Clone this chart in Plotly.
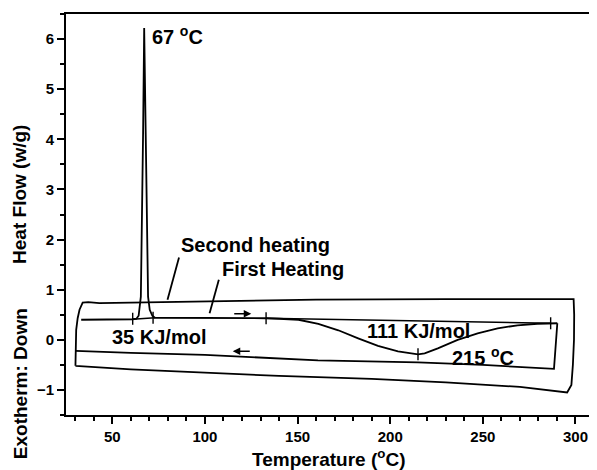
import plotly.graph_objects as go

# First heating (inner top line with melting peak and 215 C endotherm)
heat1_x = [33.2, 45, 55, 61, 63, 64.2, 65.4, 66.0, 66.6, 67.2, 67.6, 68.1, 68.7, 69.3, 70.2, 71.6, 73,
           90, 110, 133, 140, 150.5, 161.2, 172.0, 182.7, 193.4, 204.2, 211.4, 215, 218.6, 225.7, 236.4,
           247.2, 258.0, 268.7, 279.4, 286.6, 290.2]
heat1_y = [0.40, 0.40, 0.41, 0.41, 0.42, 0.48, 0.86, 2.2, 4.1, 6.22, 5.0, 4.1, 2.2, 0.86, 0.60, 0.48, 0.44,
           0.44, 0.44, 0.43, 0.42, 0.40, 0.32, 0.19, 0.03, -0.12, -0.23, -0.28, -0.29, -0.27, -0.17, 0.0,
           0.13, 0.23, 0.29, 0.32, 0.33, 0.33]
# First cooling (inner lower line)
cool1_x = [290.2, 289.5, 288.4, 250, 215, 161, 130, 100, 60, 30.2]
cool1_y = [0.33, -0.1, -0.58, -0.50, -0.45, -0.41, -0.36, -0.30, -0.26, -0.22]
# Second heating / cooling loop (outer line)
loop2_x = [30.1, 30.1, 30.5, 31.3, 32.3, 34.0, 37, 43, 100, 160, 230, 299.0, 299.3, 299.2, 298.6, 297.8,
           295.5, 270, 230, 190, 140, 100, 60, 30.1]
loop2_y = [-0.52, 0.0, 0.2, 0.43, 0.6, 0.74, 0.75, 0.73, 0.77, 0.80, 0.81, 0.81, 0.5, 0.0, -0.5, -0.9,
           -1.05, -0.94, -0.85, -0.78, -0.72, -0.66, -0.59, -0.52]
# Integration baselines
base_x = [[61, 73], [133, 286.6]]
base_y = [[0.41, 0.44], [0.43, 0.33]]
# Integration limit / peak markers
mark_x = [61, 72, 133, 215, 286.6]
mark_y = [0.42, 0.44, 0.43, -0.29, 0.33]
mark_h = 0.12

# Labels
labels = ["67 <sup>o</sup>C", "Second heating", "First Heating", "35 KJ/mol", "111 KJ/mol", "215 <sup>o</sup>C"]
label_x = [70.9, 86.5, 108.9, 49.4, 187.0, 232.8]
label_y = [6.08, 1.90, 1.41, 0.066, 0.166, -0.33]
# Pointer lines for series labels (from, to)
ptr_x = [[86.0, 79.8], [107.5, 102.5]]
ptr_y = [[1.64, 0.80], [1.20, 0.53]]
# Direction arrows (tail x, head x, y)
dir_arrows = [(115, 125, 0.52), (125, 115, -0.23)]

BLACK = "#000000"
FONT = "Liberation Sans"

fig = go.Figure()
line = dict(color=BLACK, width=1.8)
fig.add_trace(go.Scatter(x=heat1_x, y=heat1_y, mode="lines", line=line, hoverinfo="skip"))
fig.add_trace(go.Scatter(x=cool1_x, y=cool1_y, mode="lines", line=line, hoverinfo="skip"))
fig.add_trace(go.Scatter(x=loop2_x, y=loop2_y, mode="lines", line=line, hoverinfo="skip"))
for bx, by in zip(base_x, base_y):
    fig.add_trace(go.Scatter(x=bx, y=by, mode="lines", line=dict(color=BLACK, width=1.4), hoverinfo="skip"))
mx, my = [], []
for x, y in zip(mark_x, mark_y):
    mx += [x, x, None]
    my += [y - mark_h, y + mark_h, None]
fig.add_trace(go.Scatter(x=mx, y=my, mode="lines", line=dict(color=BLACK, width=1.4), hoverinfo="skip"))
px_, py_ = [], []
for xs, ys in zip(ptr_x, ptr_y):
    px_ += xs + [None]
    py_ += ys + [None]
fig.add_trace(go.Scatter(x=px_, y=py_, mode="lines", line=dict(color=BLACK, width=1.8), hoverinfo="skip"))

bold = dict(family=FONT, size=20, color=BLACK, weight="bold")
for t, x, y in zip(labels, label_x, label_y):
    fig.add_annotation(x=x, y=y, xref="x", yref="y", text=t, showarrow=False,
                       xanchor="left", yanchor="middle", font=bold, borderpad=0)
for x0, x1, y in dir_arrows:
    fig.add_annotation(x=x1, y=y, ax=x0, ay=y, xref="x", yref="y", axref="x", ayref="y",
                       text="", showarrow=True, arrowhead=2, arrowsize=1.0, arrowwidth=1.5,
                       arrowcolor=BLACK)

fig.add_annotation(x=0.497, y=-0.107, xref="paper", yref="paper", text="Temperature (<sup>o</sup>C)",
                   showarrow=False, xanchor="center", yanchor="middle", borderpad=0,
                   font=dict(family=FONT, size=19, color=BLACK, weight="bold"))
yt_font = dict(family=FONT, size=19, color=BLACK, weight="bold")
fig.add_annotation(x=-0.087, y=0.549, xref="paper", yref="paper", text="Heat Flow (w/g)", borderpad=0,
                   showarrow=False, textangle=-90, xanchor="center", yanchor="middle", font=yt_font)
fig.add_annotation(x=-0.087, y=0.077, xref="paper", yref="paper", text="Exotherm: Down", borderpad=0,
                   showarrow=False, textangle=-90, xanchor="center", yanchor="middle", font=yt_font)

axis_common = dict(showgrid=False, zeroline=False, showline=True, linecolor=BLACK, linewidth=2,
                   mirror=True, ticks="outside", ticklen=7, tickwidth=1.5, tickcolor=BLACK,
                   tickfont=dict(family=FONT, size=15, color=BLACK, weight="bold"))
fig.update_xaxes(range=[25, 310], tickvals=[50, 100, 150, 200, 250, 300],
                 minor=dict(dtick=10, tick0=0, ticks="outside", ticklen=4, tickwidth=1.5, tickcolor=BLACK),
                 **axis_common)
fig.update_yaxes(range=[-1.5, 6.5], tickvals=[-1, 0, 1, 2, 3, 4, 5, 6],
                 minor=dict(dtick=0.5, tick0=0, ticks="outside", ticklen=4, tickwidth=1.5, tickcolor=BLACK),
                 **axis_common)
# page body has an 8px margin, so the figure is sized to fit the 597x470 window
fig.update_layout(width=589, height=462, showlegend=False,
                  margin=dict(l=58, r=1, t=6, b=55),
                  paper_bgcolor="white", plot_bgcolor="white",
                  font=dict(family=FONT, color=BLACK))
fig.write_html("out.html")
